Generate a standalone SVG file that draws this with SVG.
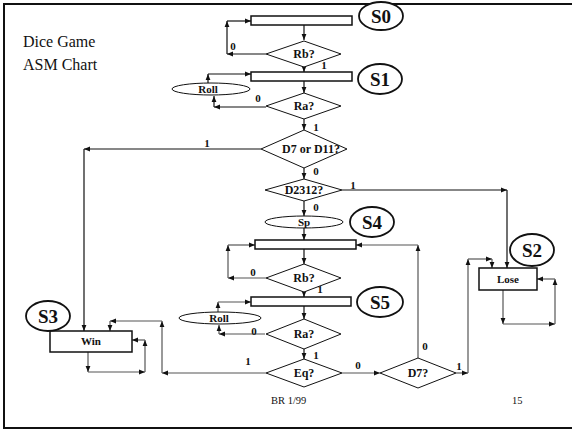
<svg xmlns="http://www.w3.org/2000/svg" width="572" height="430" viewBox="0 0 572 430">
<defs>
<marker id="ah" viewBox="0 0 10 10" refX="10" refY="5" markerWidth="6" markerHeight="6" markerUnits="userSpaceOnUse" orient="auto"><path d="M0,1 L10,5 L0,9 z" fill="#111"/></marker>
</defs>
<style>
.box{fill:#fff;stroke:#111;stroke-width:1.5}
.dia{fill:#fff;stroke:#111;stroke-width:1}
.ov{fill:#fff;stroke:#111;stroke-width:1}
.sov{fill:#fff;stroke:#111;stroke-width:1.8}
.c{fill:none;stroke:#111;stroke-width:1.2;marker-end:url(#ah)}
.g{stroke:#555}
.t{font-family:"Liberation Serif","Times New Roman",serif;font-weight:bold;text-anchor:middle;fill:#111}
.d{font-size:12px}
.s{font-size:19px}
.l{font-size:11px}
.n{font-family:"Liberation Serif","Times New Roman",serif;fill:#111}
</style>
<rect width="572" height="430" fill="#fff"/>
<path d="M572,4 H4 V428 H572" fill="none" stroke="#111" stroke-width="2"/>
<text class="n" x="23" y="47" font-size="16">Dice Game</text>
<text class="n" x="23" y="70" font-size="16">ASM Chart</text>
<text class="n" x="271" y="404" font-size="10.5">BR 1/99</text>
<text class="n" x="512" y="404" font-size="10.5">15</text>

<g id="connectors">
<path class="c" d="M304,25 V40"/>
<path class="c" d="M266,54 H227"/>
<path class="c" d="M227,54 V21"/>
<path class="c" d="M227,21 H251"/>
<path class="c" d="M304,67 V72"/>
<path class="c" d="M304,81 V93"/>
<path class="c" d="M266,107 H214"/>
<path class="c" d="M214,107 V96"/>
<path class="c" d="M208,83 V74"/>
<path class="c" d="M208,74 H251"/>
<path class="c" d="M304,119 V130"/>
<path class="c" d="M261,149 H84"/>
<path class="c" d="M84,149 V331"/>
<path class="c" d="M304,168 V179"/>
<path class="c" d="M342,190 H507"/>
<path class="c" d="M507,190 V268"/>
<path class="c" d="M304,201 V216"/>
<path class="c" d="M304,228 V240"/>
<path class="c" d="M304,249 V264"/>
<path class="c g" d="M266,278 H228"/>
<path class="c g" d="M228,278 V245"/>
<path class="c g" d="M228,245 H255"/>
<path class="c" d="M304,292 V297"/>
<path class="c" d="M304,306 V319"/>
<path class="c g" d="M218,312 V302"/>
<path class="c g" d="M218,302 H251"/>
<path class="c g" d="M265,334 H219"/>
<path class="c g" d="M219,334 V325"/>
<path class="c" d="M304,349 V359"/>
<path class="c g" d="M266,373 H162"/>
<path class="c g" d="M162,373 V321"/>
<path class="c g" d="M162,321 H110"/>
<path class="c g" d="M110,321 V331"/>
<path class="c g" d="M342,373 H380"/>
<path class="c g" d="M418,358 V245"/>
<path class="c g" d="M418,245 H356"/>
<path class="c g" d="M456,373 H468"/>
<path class="c g" d="M468,373 V259"/>
<path class="c g" d="M468,259 H492"/>
<path class="c g" d="M492,259 V268"/>
<path class="c g" d="M503,290 V324"/>
<path class="c g" d="M503,324 H555"/>
<path class="c g" d="M555,324 V279"/>
<path class="c g" d="M555,279 H537"/>
<path class="c g" d="M88,352 V372"/>
<path class="c g" d="M88,372 H145"/>
<path class="c g" d="M145,372 V340"/>
<path class="c g" d="M145,340 H132"/>
<text class="t l" x="233" y="50">0</text>
<text class="t l" x="324" y="69">1</text>
<text class="t l" x="258" y="102">0</text>
<text class="t l" x="316" y="131">1</text>
<text class="t l" x="207" y="147">1</text>
<text class="t l" x="316" y="175">0</text>
<text class="t l" x="353" y="189">1</text>
<text class="t l" x="316" y="211">0</text>
<text class="t l" x="253" y="276">0</text>
<text class="t l" x="320" y="293">1</text>
<text class="t l" x="254" y="335">0</text>
<text class="t l" x="316" y="359">1</text>
<text class="t l" x="248" y="365">1</text>
<text class="t l" x="358" y="369">0</text>
<text class="t l" x="425" y="350">0</text>
<text class="t l" x="459" y="370">1</text>
</g>

<g id="S0"><rect class="box" x="251" y="16" width="101" height="9"/><ellipse class="sov" cx="381" cy="16" rx="22" ry="14"/><text class="t s" x="381" y="23">S0</text></g>
<g id="Rb1"><polygon class="dia" points="304,41 341,54 304,67 266,54"/><text class="t d" x="304" y="58">Rb?</text></g>
<g id="S1"><rect class="box" x="251" y="72" width="101" height="9"/><ellipse class="sov" cx="380" cy="79" rx="22" ry="15"/><text class="t s" x="380" y="86">S1</text></g>
<g id="Roll1"><ellipse class="ov" cx="211" cy="89" rx="39" ry="6"/><text class="t l" x="208" y="93">Roll</text></g>
<g id="Ra1"><polygon class="dia" points="304,93 341,106 304,119 266,106"/><text class="t d" x="304" y="110">Ra?</text></g>
<g id="D7orD11"><polygon class="dia" points="304,130 347,149 304,168 261,149"/><text class="t d" x="311" y="153">D7 or D11?</text></g>
<g id="D2312"><polygon class="dia" points="304,179 342,190 304,201 265,190"/><text class="t d" x="304" y="194">D2312?</text></g>
<g id="Sp"><ellipse class="ov" cx="304" cy="222" rx="39" ry="6"/><text class="t l" x="304" y="226">Sp</text></g>
<g id="S4"><rect class="box" x="255" y="240" width="101" height="9"/><ellipse class="sov" cx="372" cy="222" rx="22" ry="15"/><text class="t s" x="372" y="229">S4</text></g>
<g id="Rb2"><polygon class="dia" points="304,264 341,278 304,292 266,278"/><text class="t d" x="304" y="282">Rb?</text></g>
<g id="S5"><rect class="box" x="251" y="297" width="100" height="9"/><ellipse class="sov" cx="380" cy="302" rx="23" ry="15"/><text class="t s" x="380" y="309">S5</text></g>
<g id="Roll2"><ellipse class="ov" cx="220" cy="318" rx="41" ry="6"/><text class="t l" x="219" y="322">Roll</text></g>
<g id="Ra2"><polygon class="dia" points="304,319 341,334 304,349 266,334"/><text class="t d" x="304" y="338">Ra?</text></g>
<g id="Eq"><polygon class="dia" points="304,359 342,373 304,387 266,373"/><text class="t d" x="304" y="377">Eq?</text></g>
<g id="D7"><polygon class="dia" points="418,358 456,373 418,388 380,373"/><text class="t d" x="418" y="377">D7?</text></g>
<g id="S3"><rect class="box" x="50" y="331" width="82" height="21" stroke-width="1"/><text class="t l" x="91" y="345">Win</text><ellipse class="sov" cx="48" cy="316" rx="22" ry="15"/><text class="t s" x="48" y="323">S3</text></g>
<g id="S2"><rect class="box" x="479" y="268" width="58" height="22" stroke-width="1"/><text class="t l" x="508" y="283">Lose</text><ellipse class="sov" cx="532" cy="250" rx="22" ry="16"/><text class="t s" x="532" y="257">S2</text></g>
</svg>
